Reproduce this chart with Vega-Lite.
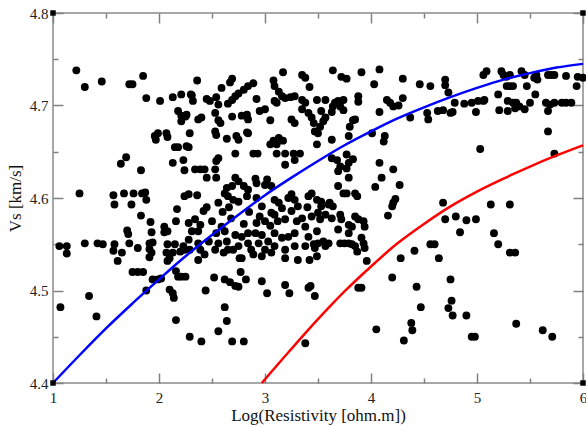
{
"$schema": "https://vega.github.io/schema/vega-lite/v6.json",
"width": 530, "height": 370,
"autosize": {"type": "none"},
"padding": {"left": 53, "top": 13, "right": 3, "bottom": 43},
"background": "white",
"config": {
 "view": {"stroke": "#8a8a8a", "strokeWidth": 1.5},
 "axis": {"domain": false, "grid": false, "labelFont": "Liberation Serif", "titleFont": "Liberation Serif", "labelFontSize": 15, "titleFontSize": 17, "titleFontWeight": "normal", "labelColor": "#222", "titleColor": "#111", "tickColor": "#808080", "tickWidth": 1.5, "labelFlush": false, "labelOverlap": false, "labelBound": false}
},
"datasets": {
 "pts": [
  {"x":1.22,"y":4.738},{"x":1.30,"y":4.720},{"x":1.46,"y":4.726},{"x":1.72,"y":4.723},{"x":1.75,"y":4.723},{"x":1.85,"y":4.732},{"x":1.88,"y":4.708},{"x":2.01,"y":4.705},{"x":2.13,"y":4.709},{"x":2.21,"y":4.712},{"x":2.18,"y":4.694},{"x":2.21,"y":4.689},{"x":2.25,"y":4.688},{"x":2.21,"y":4.683},{"x":1.96,"y":4.667},{"x":1.99,"y":4.670},{"x":2.07,"y":4.670},{"x":2.08,"y":4.666},{"x":1.97,"y":4.663},{"x":2.15,"y":4.655},{"x":2.18,"y":4.655},{"x":1.69,"y":4.644},{"x":1.64,"y":4.637},{"x":1.83,"y":4.630},{"x":2.13,"y":4.638},{"x":2.23,"y":4.641},{"x":2.24,"y":4.630},{"x":1.25,"y":4.605},{"x":1.57,"y":4.603},{"x":1.67,"y":4.605},{"x":1.76,"y":4.605},{"x":1.84,"y":4.605},{"x":1.87,"y":4.606},{"x":1.88,"y":4.598},{"x":2.24,"y":4.602},{"x":1.58,"y":4.593},{"x":1.74,"y":4.593},{"x":2.30,"y":4.712},{"x":2.36,"y":4.727},{"x":2.32,"y":4.705},{"x":2.29,"y":4.670},{"x":2.26,"y":4.656},
  {"x":1.83,"y":4.581},{"x":2.17,"y":4.588},{"x":1.92,"y":4.574},{"x":2.16,"y":4.575},{"x":2.05,"y":4.569},{"x":2.05,"y":4.563},{"x":2.08,"y":4.564},{"x":1.70,"y":4.565},{"x":1.71,"y":4.561},{"x":1.93,"y":4.563},{"x":1.06,"y":4.548},{"x":1.13,"y":4.548},{"x":1.13,"y":4.540},{"x":1.30,"y":4.551},{"x":1.42,"y":4.551},{"x":1.47,"y":4.550},{"x":1.58,"y":4.550},{"x":1.57,"y":4.543},{"x":1.65,"y":4.541},{"x":1.72,"y":4.551},{"x":1.80,"y":4.546},{"x":1.61,"y":4.532},{"x":1.91,"y":4.551},{"x":1.94,"y":4.552},{"x":1.91,"y":4.545},{"x":1.93,"y":4.541},{"x":1.91,"y":4.536},{"x":2.08,"y":4.550},{"x":2.15,"y":4.550},{"x":2.23,"y":4.548},{"x":2.07,"y":4.541},{"x":2.10,"y":4.535},{"x":2.13,"y":4.541},{"x":2.20,"y":4.542},{"x":2.24,"y":4.544},{"x":2.08,"y":4.532},{"x":1.75,"y":4.520},{"x":1.80,"y":4.520},{"x":1.85,"y":4.520},{"x":1.94,"y":4.512},{"x":1.99,"y":4.512},{"x":2.02,"y":4.513},{"x":2.16,"y":4.521},{"x":2.18,"y":4.515},{"x":2.21,"y":4.515},{"x":1.88,"y":4.500},{"x":2.10,"y":4.501},{"x":2.13,"y":4.497},{"x":2.14,"y":4.492},{"x":1.34,"y":4.494},{"x":1.07,"y":4.482},{"x":1.41,"y":4.472},{"x":2.16,"y":4.468},{"x":2.29,"y":4.450},{"x":2.40,"y":4.445},
  {"x":3.17,"y":4.736},{"x":2.69,"y":4.729},{"x":2.67,"y":4.725},{"x":2.89,"y":4.724},{"x":2.84,"y":4.721},{"x":2.80,"y":4.717},{"x":2.75,"y":4.713},{"x":2.72,"y":4.710},{"x":2.69,"y":4.706},{"x":2.65,"y":4.702},{"x":3.08,"y":4.727},{"x":3.09,"y":4.721},{"x":3.13,"y":4.715},{"x":3.16,"y":4.710},{"x":3.19,"y":4.708},{"x":3.24,"y":4.709},{"x":3.28,"y":4.710},{"x":3.35,"y":4.733},{"x":3.38,"y":4.730},{"x":3.42,"y":4.720},{"x":3.35,"y":4.706},{"x":3.38,"y":4.703},{"x":3.35,"y":4.696},{"x":3.41,"y":4.692},{"x":3.44,"y":4.687},{"x":3.46,"y":4.681},{"x":3.09,"y":4.705},{"x":3.11,"y":4.703},{"x":2.31,"y":4.711},{"x":2.45,"y":4.707},{"x":2.48,"y":4.705},{"x":2.54,"y":4.709},{"x":2.56,"y":4.701},{"x":2.59,"y":4.719},{"x":2.92,"y":4.707},{"x":2.26,"y":4.690},{"x":2.37,"y":4.685},{"x":2.40,"y":4.687},{"x":2.53,"y":4.692},{"x":2.56,"y":4.684},{"x":2.58,"y":4.681},{"x":2.69,"y":4.688},{"x":2.78,"y":4.689},{"x":2.83,"y":4.690},{"x":2.84,"y":4.685},{"x":2.95,"y":4.694},{"x":3.00,"y":4.696},{"x":3.05,"y":4.684},{"x":3.25,"y":4.685},{"x":3.28,"y":4.681},{"x":3.47,"y":4.672},{"x":3.50,"y":4.670},{"x":2.53,"y":4.672},{"x":2.54,"y":4.668},{"x":2.64,"y":4.664},{"x":2.73,"y":4.667},{"x":2.75,"y":4.663},{"x":2.83,"y":4.671},{"x":2.84,"y":4.670},{"x":3.08,"y":4.662},{"x":3.13,"y":4.665},{"x":3.17,"y":4.662},{"x":3.11,"y":4.658},{"x":3.05,"y":4.658},{"x":2.28,"y":4.655},{"x":2.72,"y":4.648},{"x":2.89,"y":4.648},{"x":2.93,"y":4.648},{"x":3.11,"y":4.648},{"x":3.19,"y":4.648},{"x":3.27,"y":4.648},{"x":3.33,"y":4.648},{"x":3.28,"y":4.641},{"x":2.56,"y":4.643},{"x":2.54,"y":4.640},{"x":3.19,"y":4.636},{"x":2.34,"y":4.631},{"x":2.39,"y":4.631},{"x":2.43,"y":4.631},{"x":2.53,"y":4.631},{"x":2.45,"y":4.622},{"x":2.54,"y":4.622},{"x":2.72,"y":4.622},{"x":2.75,"y":4.618},{"x":2.69,"y":4.613},{"x":2.64,"y":4.611},{"x":2.91,"y":4.621},{"x":2.92,"y":4.616},{"x":3.02,"y":4.620},{"x":3.00,"y":4.614},{"x":3.06,"y":4.613},{"x":2.80,"y":4.613},{"x":2.84,"y":4.609},{"x":3.25,"y":4.604},{"x":3.28,"y":4.598},{"x":3.41,"y":4.602},{"x":3.44,"y":4.605},{"x":3.49,"y":4.598},{"x":2.62,"y":4.605},{"x":2.65,"y":4.602},{"x":2.70,"y":4.598},{"x":2.28,"y":4.604},{"x":2.36,"y":4.603},{"x":2.83,"y":4.602},{"x":2.92,"y":4.600},{"x":3.09,"y":4.598},
  {"x":2.56,"y":4.595},{"x":2.42,"y":4.586},{"x":2.75,"y":4.596},{"x":2.97,"y":4.591},{"x":3.13,"y":4.595},{"x":2.28,"y":4.573},{"x":2.34,"y":4.577},{"x":2.39,"y":4.571},{"x":2.31,"y":4.564},{"x":2.37,"y":4.564},{"x":2.28,"y":4.555},{"x":2.37,"y":4.551},{"x":2.29,"y":4.544},{"x":2.39,"y":4.544},{"x":2.37,"y":4.533},{"x":2.43,"y":4.539},{"x":2.50,"y":4.575},{"x":2.59,"y":4.569},{"x":2.54,"y":4.562},{"x":2.62,"y":4.564},{"x":2.47,"y":4.553},{"x":2.56,"y":4.551},{"x":2.64,"y":4.553},{"x":2.53,"y":4.544},{"x":2.61,"y":4.541},{"x":2.65,"y":4.544},{"x":2.72,"y":4.560},{"x":2.78,"y":4.558},{"x":2.84,"y":4.562},{"x":2.91,"y":4.562},{"x":2.97,"y":4.560},{"x":3.00,"y":4.575},{"x":2.92,"y":4.573},{"x":3.06,"y":4.584},{"x":3.09,"y":4.582},{"x":3.16,"y":4.589},{"x":3.19,"y":4.577},{"x":3.25,"y":4.586},{"x":3.31,"y":4.591},{"x":3.35,"y":4.578},{"x":3.38,"y":4.569},{"x":3.44,"y":4.580},{"x":3.49,"y":4.564},{"x":3.41,"y":4.558},{"x":3.28,"y":4.562},{"x":3.22,"y":4.558},{"x":3.16,"y":4.557},{"x":3.09,"y":4.562},{"x":3.03,"y":4.553},{"x":2.94,"y":4.551},{"x":2.84,"y":4.551},{"x":2.75,"y":4.548},{"x":2.70,"y":4.544},{"x":2.78,"y":4.535},{"x":2.87,"y":4.544},{"x":3.00,"y":4.544},{"x":3.09,"y":4.548},{"x":3.19,"y":4.544},{"x":3.28,"y":4.548},{"x":3.38,"y":4.548},{"x":3.46,"y":4.550},{"x":3.49,"y":4.537},{"x":3.42,"y":4.533},{"x":3.31,"y":4.533},{"x":3.19,"y":4.535},{"x":2.97,"y":4.537},{"x":3.06,"y":4.541},{"x":2.89,"y":4.539},{"x":2.76,"y":4.535},{"x":2.45,"y":4.590},{"x":2.60,"y":4.585},{"x":2.68,"y":4.578},{"x":2.85,"y":4.585},{"x":2.95,"y":4.580},{"x":3.05,"y":4.570},{"x":3.12,"y":4.575},{"x":3.30,"y":4.575},{"x":3.40,"y":4.590},{"x":2.80,"y":4.572},{"x":2.66,"y":4.590},{"x":3.22,"y":4.600},
  {"x":2.25,"y":4.515},{"x":2.52,"y":4.514},{"x":2.62,"y":4.512},{"x":2.67,"y":4.509},{"x":2.72,"y":4.505},{"x":2.75,"y":4.504},{"x":2.77,"y":4.520},{"x":2.82,"y":4.512},{"x":2.97,"y":4.510},{"x":3.02,"y":4.497},{"x":2.44,"y":4.500},{"x":3.19,"y":4.506},{"x":3.23,"y":4.497},{"x":3.41,"y":4.503},{"x":3.43,"y":4.505},{"x":3.47,"y":4.494},{"x":2.62,"y":4.482},{"x":2.64,"y":4.467},{"x":2.56,"y":4.456},{"x":2.69,"y":4.445},{"x":2.80,"y":4.445},{"x":3.38,"y":4.443},
  {"x":3.64,"y":4.738},{"x":3.72,"y":4.731},{"x":3.77,"y":4.729},{"x":3.91,"y":4.736},{"x":4.08,"y":4.739},{"x":4.03,"y":4.723},{"x":4.30,"y":4.729},{"x":4.46,"y":4.723},{"x":4.56,"y":4.721},{"x":4.70,"y":4.728},{"x":4.70,"y":4.722},{"x":3.49,"y":4.706},{"x":3.57,"y":4.706},{"x":3.66,"y":4.703},{"x":3.69,"y":4.705},{"x":3.74,"y":4.706},{"x":3.71,"y":4.699},{"x":3.64,"y":4.699},{"x":3.63,"y":4.693},{"x":3.74,"y":4.695},{"x":3.88,"y":4.710},{"x":3.88,"y":4.704},{"x":3.53,"y":4.694},{"x":3.57,"y":4.687},{"x":3.55,"y":4.683},{"x":3.52,"y":4.677},{"x":3.80,"y":4.677},{"x":3.83,"y":4.684},{"x":3.85,"y":4.685},{"x":3.79,"y":4.667},{"x":3.63,"y":4.663},{"x":3.49,"y":4.658},{"x":4.15,"y":4.706},{"x":4.18,"y":4.703},{"x":4.21,"y":4.699},{"x":4.26,"y":4.700},{"x":4.30,"y":4.708},{"x":4.08,"y":4.693},{"x":4.37,"y":4.687},{"x":4.53,"y":4.692},{"x":4.54,"y":4.685},{"x":4.63,"y":4.694},{"x":4.68,"y":4.695},{"x":4.75,"y":4.692},{"x":4.01,"y":4.670},{"x":4.13,"y":4.667},{"x":4.12,"y":4.661},{"x":3.63,"y":4.643},{"x":3.68,"y":4.641},{"x":3.71,"y":4.634},{"x":3.79,"y":4.638},{"x":3.77,"y":4.632},{"x":3.69,"y":4.629},{"x":3.79,"y":4.622},{"x":3.77,"y":4.647},{"x":3.83,"y":4.642},{"x":4.08,"y":4.638},{"x":4.21,"y":4.631},{"x":4.10,"y":4.622},{"x":4.27,"y":4.614},{"x":3.69,"y":4.613},{"x":4.04,"y":4.612},{"x":3.74,"y":4.605},{"x":3.77,"y":4.605},{"x":3.85,"y":4.605},{"x":3.87,"y":4.602},{"x":4.23,"y":4.599},{"x":4.68,"y":4.595},{"x":3.53,"y":4.596},{"x":3.61,"y":4.595},
  {"x":3.53,"y":4.591},{"x":3.60,"y":4.593},{"x":3.64,"y":4.591},{"x":3.50,"y":4.584},{"x":3.57,"y":4.582},{"x":3.63,"y":4.578},{"x":3.52,"y":4.577},{"x":3.71,"y":4.582},{"x":3.72,"y":4.577},{"x":3.69,"y":4.566},{"x":3.79,"y":4.571},{"x":3.82,"y":4.569},{"x":3.79,"y":4.562},{"x":3.85,"y":4.580},{"x":3.88,"y":4.577},{"x":3.94,"y":4.569},{"x":3.93,"y":4.575},{"x":4.21,"y":4.595},{"x":4.20,"y":4.591},{"x":4.16,"y":4.581},{"x":4.70,"y":4.577},{"x":3.50,"y":4.551},{"x":3.55,"y":4.553},{"x":3.60,"y":4.551},{"x":3.57,"y":4.548},{"x":3.47,"y":4.546},{"x":3.71,"y":4.551},{"x":3.75,"y":4.551},{"x":3.79,"y":4.551},{"x":3.82,"y":4.550},{"x":3.85,"y":4.548},{"x":3.87,"y":4.542},{"x":3.91,"y":4.557},{"x":3.93,"y":4.551},{"x":3.94,"y":4.546},{"x":3.96,"y":4.532},{"x":4.28,"y":4.535},{"x":4.41,"y":4.543},{"x":4.56,"y":4.550},{"x":4.60,"y":4.550},{"x":4.64,"y":4.535},{"x":4.20,"y":4.514},{"x":3.88,"y":4.503},{"x":3.91,"y":4.503},{"x":4.43,"y":4.504},{"x":4.47,"y":4.482},{"x":4.73,"y":4.481},{"x":4.38,"y":4.465},{"x":4.39,"y":4.457},{"x":4.05,"y":4.458},{"x":4.31,"y":4.446},{"x":4.75,"y":4.512},
  {"x":5.13,"y":4.593},{"x":5.31,"y":4.593},{"x":4.80,"y":4.580},{"x":4.90,"y":4.576},{"x":4.99,"y":4.577},{"x":4.84,"y":4.563},{"x":5.16,"y":4.562},{"x":5.20,"y":4.550},{"x":5.31,"y":4.541},{"x":5.36,"y":4.541},{"x":4.76,"y":4.489},{"x":4.77,"y":4.473},{"x":4.90,"y":4.473},{"x":5.37,"y":4.464},{"x":5.62,"y":4.457},{"x":5.71,"y":4.450},{"x":4.95,"y":4.450},{"x":4.98,"y":4.450},
  {"x":4.73,"y":4.714},{"x":5.09,"y":4.737},{"x":5.06,"y":4.733},{"x":5.23,"y":4.737},{"x":5.25,"y":4.733},{"x":5.28,"y":4.731},{"x":5.31,"y":4.733},{"x":5.42,"y":4.737},{"x":5.45,"y":4.733},{"x":5.56,"y":4.733},{"x":5.54,"y":4.730},{"x":5.57,"y":4.728},{"x":5.67,"y":4.733},{"x":5.70,"y":4.733},{"x":5.73,"y":4.733},{"x":5.84,"y":4.732},{"x":5.95,"y":4.731},{"x":6.00,"y":4.730},{"x":5.28,"y":4.721},{"x":5.31,"y":4.721},{"x":5.34,"y":4.721},{"x":5.47,"y":4.721},{"x":5.94,"y":4.721},{"x":5.20,"y":4.712},{"x":5.55,"y":4.712},{"x":4.79,"y":4.703},{"x":4.88,"y":4.702},{"x":4.95,"y":4.703},{"x":5.01,"y":4.705},{"x":5.06,"y":4.705},{"x":5.07,"y":4.706},{"x":4.77,"y":4.693},{"x":4.99,"y":4.693},{"x":5.21,"y":4.695},{"x":5.29,"y":4.705},{"x":5.34,"y":4.703},{"x":5.37,"y":4.703},{"x":5.29,"y":4.694},{"x":5.36,"y":4.697},{"x":5.40,"y":4.699},{"x":5.45,"y":4.696},{"x":5.50,"y":4.703},{"x":5.65,"y":4.703},{"x":5.69,"y":4.701},{"x":5.73,"y":4.703},{"x":5.80,"y":4.703},{"x":5.84,"y":4.703},{"x":5.89,"y":4.703},{"x":5.67,"y":4.694},{"x":5.67,"y":4.672},{"x":5.03,"y":4.653},{"x":5.73,"y":4.648}
 ],
 "blue": [
  {"x":1,"y":4.400},{"x":1.25,"y":4.430},{"x":1.5,"y":4.459},{"x":1.75,"y":4.486},{"x":2,"y":4.512},{"x":2.25,"y":4.537},{"x":2.5,"y":4.560},{"x":2.75,"y":4.582},{"x":3,"y":4.603},{"x":3.25,"y":4.622},{"x":3.5,"y":4.640},{"x":3.75,"y":4.657},{"x":4,"y":4.672},{"x":4.25,"y":4.686},{"x":4.5,"y":4.698},{"x":4.75,"y":4.709},{"x":5,"y":4.719},{"x":5.25,"y":4.728},{"x":5.5,"y":4.735},{"x":5.75,"y":4.741},{"x":6,"y":4.745}
 ],
 "red": [
  {"x":2.97,"y":4.400},{"x":3.25,"y":4.437},{"x":3.5,"y":4.469},{"x":3.75,"y":4.499},{"x":4.0,"y":4.526},{"x":4.25,"y":4.551},{"x":4.5,"y":4.572},{"x":4.75,"y":4.591},{"x":5.0,"y":4.607},{"x":5.25,"y":4.621},{"x":5.5,"y":4.634},{"x":5.75,"y":4.646},{"x":6.0,"y":4.657}
 ],
 "corners": [
  {"x":1,"y":4.4},{"x":1,"y":4.8},{"x":6,"y":4.4},{"x":6,"y":4.8}
 ]
},
"layer": [
 {
  "data": {"name": "pts"},
  "mark": {"type": "circle", "size": 62, "color": "#000000", "opacity": 1},
  "encoding": {
   "x": {"field": "x", "type": "quantitative", "scale": {"domain": [1, 6], "nice": false, "zero": false},
         "axis": {"orient": "bottom", "values": [1,2,3,4,5,6], "format": "d", "tickSize": -10, "labelPadding": 17, "title": "Log(Resistivity [ohm.m])", "titlePadding": 2}},
   "y": {"field": "y", "type": "quantitative", "scale": {"domain": [4.4, 4.8], "nice": false, "zero": false},
         "axis": {"orient": "left", "values": [4.4,4.5,4.6,4.7,4.8], "format": ".1f", "tickSize": -10, "labelPadding": 15, "title": "Vs [km/s]", "titlePadding": 5}}
  }
 },
 {
  "data": {"name": "blue"},
  "mark": {"type": "line", "color": "#0000ff", "strokeWidth": 2.5, "interpolate": "monotone"},
  "encoding": {
   "x": {"field": "x", "type": "quantitative", "axis": {"orient": "top", "values": [1,2,3,4,5,6], "labels": false, "tickSize": -10, "title": null}},
   "y": {"field": "y", "type": "quantitative", "axis": {"orient": "right", "values": [4.4,4.5,4.6,4.7,4.8], "labels": false, "tickSize": -10, "title": null}}
  }
 },
 {
  "data": {"name": "red"},
  "mark": {"type": "line", "color": "#ff0000", "strokeWidth": 2.5, "interpolate": "monotone"},
  "encoding": {
   "x": {"field": "x", "type": "quantitative", "axis": {"orient": "bottom", "values": [1.5,2.5,3.5,4.5,5.5], "labels": false, "tickSize": -5, "title": null}},
   "y": {"field": "y", "type": "quantitative", "axis": {"orient": "left", "values": [4.45,4.55,4.65,4.75], "labels": false, "tickSize": -5, "title": null}}
  }
 },
 {
  "data": {"name": "corners"},
  "mark": {"type": "square", "size": 30, "color": "#000000", "opacity": 1},
  "encoding": {
   "x": {"field": "x", "type": "quantitative", "axis": {"orient": "top", "values": [1.5,2.5,3.5,4.5,5.5], "labels": false, "tickSize": -5, "title": null}},
   "y": {"field": "y", "type": "quantitative", "axis": {"orient": "right", "values": [4.45,4.55,4.65,4.75], "labels": false, "tickSize": -5, "title": null}}
  }
 }
]
}
